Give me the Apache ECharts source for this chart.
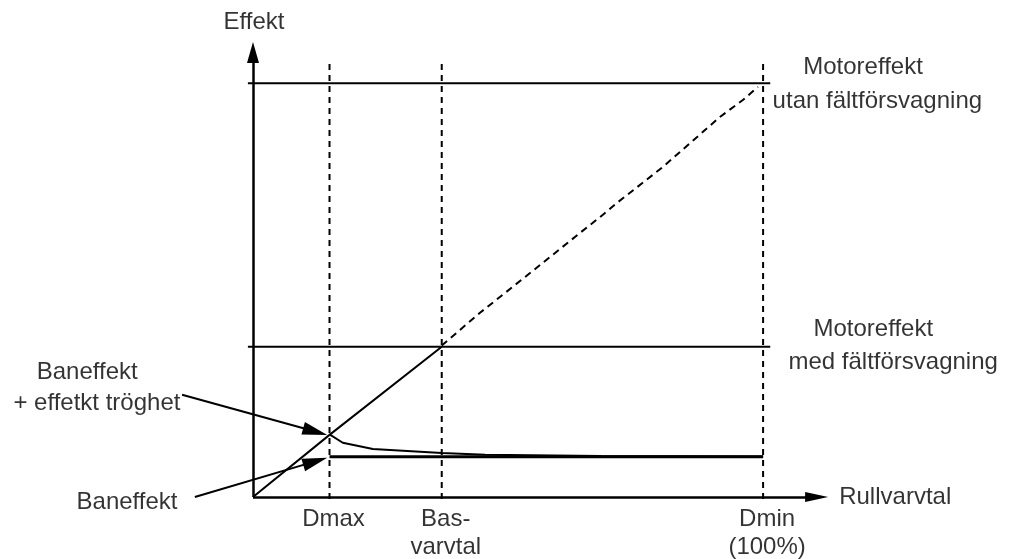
<!DOCTYPE html>
<html>
<head>
<meta charset="utf-8">
<script src="https://cdn.jsdelivr.net/npm/echarts@6/dist/echarts.min.js"></script>
<style>
  html, body { margin: 0; padding: 0; background: #fff; }
  #chart { width: 1011px; height: 559px; }
</style>
</head>
<body>
<div id="chart"></div>
<script>
// varvtal-punkter på x-axeln (Dmin = 100 %)
var tickX = [15, 37, 100]
var tickLabels = ['Dmax', 'Bas-\nvarvtal', 'Dmin\n(100%)']

// motoreffekt-nivåer
var motorUtan = 100
var motorMed = 36.3

// motoreffekt, rak del upp till basvarvtal
var motorSolid = [[0, 0], [15, 15], [37, 36.3]]
// motoreffekt utan fältförsvagning (streckad)
var motorDashed = [[37, 36.6], [44.5, 44.5], [54.3, 54.1], [64.1, 63.8], [68.6, 68.2],
  [71.4, 71.1], [80.4, 79.8], [91.6, 91.9], [96.1, 96.0], [99, 99.1]]
// baneffekt + effekt tröghet
var tragCurve = [[15, 15.1], [17.6, 13.1], [23.5, 11.6], [37, 10.6], [45.5, 10.2],
  [68.2, 9.9], [100, 9.8]]
// baneffekt
var banEffekt = [[15, 9.7], [100, 9.7]]

// texter: [x, y, text]
var texts = [
  [0.2, 114.6, 'Effekt'],
  [119.6, 103.9, 'Motoreffekt'],
  [122.4, 95.7, 'utan fältförsvagning'],
  [121.6, 40.4, 'Motoreffekt'],
  [125.5, 32.6, 'med fältförsvagning'],
  [125.9, -0.1, 'Rullvarvtal'],
  [-32.5, 30.2, 'Baneffekt'],
  [-30.6, 22.7, '+ effetkt tröghet'],
  [-24.7, -1.2, 'Baneffekt']
]

var font = '"Liberation Sans", Arial, sans-serif'
var black = '#000'

function plainLine (name, data, width, type) {
  return {
    name: name,
    type: 'line',
    data: data,
    showSymbol: false,
    symbol: 'none',
    silent: true,
    lineStyle: { color: black, width: width, type: type || 'solid' },
    z: 3
  }
}

var series = []
series.push(plainLine('utan', [[-1, motorUtan], [101.4, motorUtan]], 2))
series.push(plainLine('med', [[-1, motorMed], [101.4, motorMed]], 2))
tickX.forEach(function (x, i) {
  series.push(plainLine('v' + i, [[x, -0.5], [x, 105]], 2, [6, 5]))
})
series.push(plainLine('solid', motorSolid, 2))
series.push(plainLine('dashed', motorDashed, 2, [7, 5]))
series.push(plainLine('curve', tragCurve, 2))
series.push(plainLine('ban', banEffekt, 3))

// axlar och pilar
series.push({
  type: 'line',
  data: [],
  silent: true,
  markLine: {
    silent: true,
    animation: false,
    label: { show: false },
    lineStyle: { color: black, type: 'solid' },
    data: [
      [{ coord: [0, 0], symbol: 'none', lineStyle: { width: 2.5 } },
        { coord: [0, 107.4], symbol: 'triangle', symbolSize: [12, 21] }],
      [{ coord: [0, 0], symbol: 'none', lineStyle: { width: 2.5 } },
        { coord: [110.5, 0], symbol: 'triangle', symbolSize: [10, 23] }],
      [{ coord: [-13.9, 24.7], symbol: 'none', lineStyle: { width: 2 } },
        { coord: [12.2, 15.8], symbol: 'triangle', symbolSize: [13, 25] }],
      [{ coord: [-11.4, 0], symbol: 'none', lineStyle: { width: 2 } },
        { coord: [12.2, 8.6], symbol: 'triangle', symbolSize: [13, 25] }]
    ]
  }
})

// texter
series.push({
  type: 'scatter',
  data: texts.map(function (t) { return { value: [t[0], t[1]], name: t[2] } }),
  symbolSize: 1,
  itemStyle: { color: 'rgba(0,0,0,0)' },
  silent: true,
  label: {
    show: true,
    position: 'inside',
    formatter: '{b}',
    color: black,
    fontFamily: font,
    fontSize: 24
  },
  z: 5
})
series.push({
  type: 'scatter',
  data: tickX.map(function (x, i) { return { value: [x, 0], name: tickLabels[i] } }),
  symbolSize: 1,
  itemStyle: { color: 'rgba(0,0,0,0)' },
  silent: true,
  label: {
    show: true,
    position: 'bottom',
    distance: 8,
    offset: [4, 0],
    formatter: '{b}',
    color: black,
    fontFamily: font,
    fontSize: 24,
    lineHeight: 28
  },
  z: 5
})

var myChart = echarts.init(document.getElementById('chart'))
myChart.setOption({
  animation: false,
  backgroundColor: '#fff',
  grid: { left: 0, right: 0, top: 0, bottom: 0 },
  xAxis: { type: 'value', min: -49.6, max: 148.6, show: false },
  yAxis: { type: 'value', min: -15, max: 120.1, show: false },
  series: series
})
</script>
</body>
</html>
